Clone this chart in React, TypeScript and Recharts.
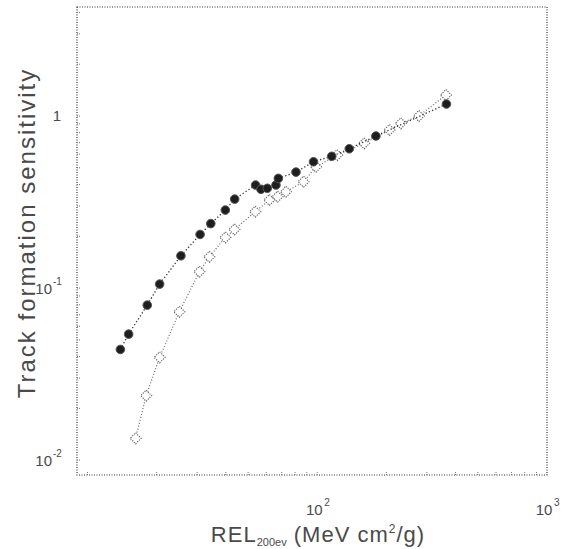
import React from "react";
import { ComposedChart, XAxis, YAxis, Scatter, ReferenceArea } from "recharts";

// REL_200eV (MeV cm2/g) and track formation sensitivity
const relFilled = [13.9, 15.1, 18.2, 20.6, 25.5, 30.9, 34.4, 39.8, 43.7, 53.9, 56.9, 60.6, 66.1, 67.7, 80.8, 96.3, 115.6, 137.8, 180, 365];
const sensFilled = [0.044, 0.054, 0.0796, 0.1055, 0.154, 0.205, 0.237, 0.284, 0.329, 0.397, 0.375, 0.38, 0.397, 0.434, 0.472, 0.542, 0.583, 0.645, 0.765, 1.174];

const relOpen = [16.2, 18.0, 20.6, 25.1, 30.7, 33.9, 39.8, 43.6, 53.7, 61.9, 67.2, 73.1, 87.2, 98.7, 122, 160, 206, 231, 277, 363];
const sensOpen = [0.0134, 0.0237, 0.0396, 0.0728, 0.1245, 0.152, 0.197, 0.219, 0.278, 0.325, 0.34, 0.363, 0.415, 0.507, 0.593, 0.694, 0.829, 0.907, 1.0, 1.324];

const xTicks = [10, 20, 30, 40, 50, 60, 70, 80, 90, 100, 200, 300, 400, 500, 600, 700, 800, 900, 1000];
const xMajor: Record<number, string> = { 100: "2", 1000: "3" };
const yTicks = [0.01, 0.02, 0.03, 0.04, 0.05, 0.06, 0.07, 0.08, 0.09, 0.1, 0.2, 0.3, 0.4, 0.5, 0.6, 0.7, 0.8, 0.9, 1, 2, 3, 4];
const yMajor: Record<number, string> = { 0.01: "-2", 0.1: "-1", 1: "" };

const X_DOMAIN: [number, number] = [9, 1000];
const Y_DOMAIN: [number, number] = [0.0082, 4.3];

const filledPts = relFilled.map((x, i) => ({ x, y: sensFilled[i] }));
const openPts = relOpen.map((x, i) => ({ x, y: sensOpen[i] }));

const FONT = "'Liberation Sans', Arial, sans-serif";
const INK = "#4a4a4a";

function XTick(props: any) {
  const { x, y, payload } = props;
  const sup = xMajor[payload.value];
  return (
    <g>
      <line x1={x} y1={y} x2={x} y2={y - 4} stroke="#777" strokeWidth={1} strokeDasharray="1 1" />
      {sup !== undefined && (
        <g fontFamily={FONT} fill={INK}>
          <text x={x - 3} y={y + 40} fontSize={15} textAnchor="middle">10</text>
          <text x={x + 7} y={y + 31} fontSize={10}>{sup}</text>
        </g>
      )}
    </g>
  );
}

function YTick(props: any) {
  const { x, y, payload } = props;
  const sup = yMajor[payload.value];
  return (
    <g>
      <line x1={x} y1={y} x2={x + 4} y2={y} stroke="#777" strokeWidth={1} strokeDasharray="1 1" />
      {sup !== undefined &&
        (sup === "" ? (
          <text x={x - 20} y={y + 5} fontSize={15} fontFamily={FONT} fill={INK} textAnchor="middle">1</text>
        ) : (
          <g fontFamily={FONT} fill={INK}>
            <text x={x - 25} y={y + 6} fontSize={15} textAnchor="end">10</text>
            <text x={x - 24} y={y - 3} fontSize={10}>{sup}</text>
          </g>
        ))}
    </g>
  );
}

function FilledDot(props: any) {
  const { cx, cy } = props;
  return <circle cx={cx} cy={cy} r={4.3} fill="#1e1e1e" stroke="#555" strokeWidth={1} />;
}

function OpenDiamond(props: any) {
  const { cx, cy } = props;
  const r = 5.5;
  return (
    <polygon
      points={`${cx},${cy - r} ${cx + r},${cy} ${cx},${cy + r} ${cx - r},${cy}`}
      fill="#fff"
      stroke="#666"
      strokeWidth={1.2}
      strokeDasharray="1.2 1.2"
    />
  );
}

export default function App() {
  return (
    <div style={{ position: "absolute", left: 0, top: 0, background: "#fff" }}>
      <ComposedChart width={567} height={549} margin={{ top: 7, right: 20, left: 0, bottom: 0 }}>
        <XAxis
          type="number"
          dataKey="x"
          scale="log"
          domain={X_DOMAIN}
          ticks={xTicks}
          interval={0}
          allowDataOverflow
          axisLine={false}
          tickLine={false}
          tickSize={0}
          tickMargin={0}
          height={74}
          tick={<XTick />}
        />
        <YAxis
          type="number"
          dataKey="y"
          scale="log"
          domain={Y_DOMAIN}
          ticks={yTicks}
          interval={0}
          allowDataOverflow
          axisLine={false}
          tickLine={false}
          tickSize={0}
          tickMargin={0}
          width={77}
          tick={<YTick />}
        />
        <ReferenceArea
          x1={X_DOMAIN[0]}
          x2={X_DOMAIN[1]}
          y1={Y_DOMAIN[0]}
          y2={Y_DOMAIN[1]}
          fill="none"
          stroke="#333"
          strokeWidth={1.2}
          strokeDasharray="1 1.5"
        />
        <Scatter
          data={openPts}
          dataKey="y"
          line={{ stroke: "#666", strokeWidth: 1.2, strokeDasharray: "1 2" }}
          lineType="joint"
          shape={<OpenDiamond />}
          isAnimationActive={false}
        />
        <Scatter
          data={filledPts}
          dataKey="y"
          line={{ stroke: "#333", strokeWidth: 1.3, strokeDasharray: "1.3 2.2" }}
          lineType="joint"
          shape={<FilledDot />}
          isAnimationActive={false}
        />
        <text
          x={26}
          y={233}
          transform="rotate(-90 26 233)"
          textAnchor="middle"
          dominantBaseline="central"
          fontSize={24}
          letterSpacing={2}
          fontFamily={FONT}
          fill={INK}
        >
          Track formation sensitivity
        </text>
        <text x={318} y={542} textAnchor="middle" fontSize={22} letterSpacing={1} fontFamily={FONT} fill={INK}>
          REL
          <tspan fontSize={11} dy={4} letterSpacing={0}>200ev</tspan>
          <tspan dy={-4}> (MeV cm</tspan>
          <tspan fontSize={12} dy={-9}>2</tspan>
          <tspan dy={9}>/g)</tspan>
        </text>
      </ComposedChart>
    </div>
  );
}
